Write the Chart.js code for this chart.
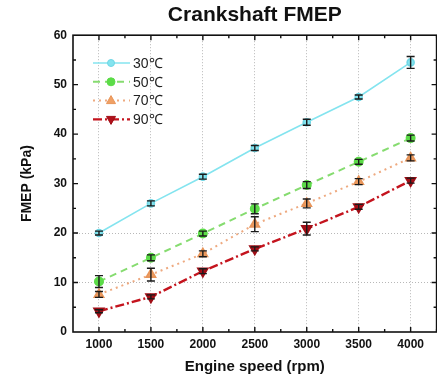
<!DOCTYPE html>
<html>
<head>
<meta charset="utf-8">
<script src="https://cdn.jsdelivr.net/npm/chart.js@4"></script>
<style>
  html, body { margin: 0; padding: 0; background: #fff; overflow: hidden; }
  #wrap { width: 444px; height: 382px; }
</style>
</head>
<body>
<div id="wrap"><canvas id="fmep-chart"></canvas></div>
<script>
// engine speeds (rpm)
const speeds = [1000, 1500, 2000, 2500, 3000, 3500, 4000];
// FMEP values (kPa) per oil temperature
const fmep30 = [20.0, 26.0, 31.4, 37.2, 42.4, 47.5, 54.5];
const fmep50 = [10.2, 15.0, 19.9, 24.9, 29.7, 34.4, 39.2];
const fmep70 = [7.6, 11.6, 15.8, 21.8, 26.0, 30.4, 35.2];
const fmep90 = [4.2, 7.1, 12.3, 16.8, 20.9, 25.3, 30.6];
// error bar half ranges (kPa)
const err30 = [0.4, 0.5, 0.5, 0.5, 0.6, 0.4, 1.2];
const err50 = [1.2, 0.6, 0.5, 1.0, 0.7, 0.5, 0.6];
const err70 = [0.6, 1.3, 0.6, 1.5, 0.9, 0.6, 0.6];
const err90 = [0.3, 0.4, 0.5, 0.4, 1.3, 0.5, 0.5];
// legend labels
const labels = ["30\u2103", "50\u2103", "70\u2103", "90\u2103"];
// y axis ticks
const yTicks = [0, 10, 20, 30, 40, 50, 60];

const FONT = "'Liberation Sans', Arial, sans-serif";

const toPoints = (vals) => vals.map((v, i) => ({ x: speeds[i], y: v }));

// draws one marker (used by the legend)
const drawMarker = (ctx, ds, x, y) => {
  const r = ds.pointRadius;
  ctx.save();
  ctx.fillStyle = ds.pointBackgroundColor;
  ctx.strokeStyle = ds.pointBorderColor;
  ctx.lineWidth = 1;
  ctx.setLineDash([]);
  ctx.beginPath();
  if (ds.pointStyle === "triangle") {
    const s = ds.pointRotation === 180 ? -1 : 1;
    ctx.moveTo(x, y - s * r);
    ctx.lineTo(x + r * 0.9, y + s * r * 0.6);
    ctx.lineTo(x - r * 0.9, y + s * r * 0.6);
    ctx.closePath();
  } else {
    ctx.arc(x, y, r, 0, Math.PI * 2);
  }
  ctx.fill();
  ctx.stroke();
  ctx.restore();
};

// frame with inward ticks, error bars and legend inside the plot
const decorations = {
  id: "decorations",
  afterDatasetsDraw(chart) {
    const { ctx, chartArea: a, scales: { x, y } } = chart;

    // error bars
    ctx.save();
    ctx.strokeStyle = "#1a1a1a";
    ctx.lineWidth = 1.4;
    chart.data.datasets.forEach((ds) => {
      ds.data.forEach((p, i) => {
        const px = x.getPixelForValue(p.x);
        const top = y.getPixelForValue(p.y + ds.errors[i]);
        const bot = y.getPixelForValue(p.y - ds.errors[i]);
        ctx.beginPath();
        ctx.moveTo(px, top); ctx.lineTo(px, bot);
        ctx.moveTo(px - 4, top); ctx.lineTo(px + 4, top);
        ctx.moveTo(px - 4, bot); ctx.lineTo(px + 4, bot);
        ctx.stroke();
      });
    });
    ctx.restore();

    // frame
    ctx.save();
    ctx.strokeStyle = "#111";
    ctx.lineWidth = 1.6;
    ctx.strokeRect(a.left, a.top, a.right - a.left, a.bottom - a.top);
    ctx.lineWidth = 1.4;
    ctx.beginPath();
    for (let v = 1000; v <= 4250; v += 250) {
      const px = x.getPixelForValue(v);
      const len = v % 500 === 0 ? 5 : 3;
      ctx.moveTo(px, a.bottom); ctx.lineTo(px, a.bottom - len);
      ctx.moveTo(px, a.top); ctx.lineTo(px, a.top + len);
    }
    for (let v = 5; v < 60; v += 5) {
      const py = y.getPixelForValue(v);
      const len = v % 10 === 0 ? 5 : 3;
      ctx.moveTo(a.left, py); ctx.lineTo(a.left + len, py);
      ctx.moveTo(a.right, py); ctx.lineTo(a.right - len, py);
    }
    ctx.stroke();
    ctx.restore();

    // legend
    ctx.save();
    ctx.font = "14px " + FONT;
    ctx.textBaseline = "middle";
    chart.data.datasets.forEach((ds, i) => {
      const ly = 63 + i * 18.8;
      ctx.strokeStyle = ds.borderColor;
      ctx.lineWidth = ds.borderWidth;
      ctx.setLineDash(ds.borderDash || []);
      ctx.beginPath();
      ctx.moveTo(93, ly); ctx.lineTo(130, ly);
      ctx.stroke();
      drawMarker(ctx, ds, 111, ly);
      ctx.fillStyle = "#222";
      ctx.fillText(ds.label, 133, ly + 1);
    });
    ctx.restore();
  },
};

const data = {
  datasets: [
    {
      label: labels[0],
      data: toPoints(fmep30),
      errors: err30,
      borderColor: "#84e4ef",
      borderWidth: 1.6,
      pointStyle: "circle",
      pointRadius: 3.5,
      pointBackgroundColor: "#84e4ef",
      pointBorderColor: "#6fd6e4",
    },
    {
      label: labels[1],
      data: toPoints(fmep50),
      errors: err50,
      borderColor: "#86dc70",
      borderWidth: 2,
      borderDash: [7, 5],
      pointStyle: "circle",
      pointRadius: 4,
      pointBackgroundColor: "#5cdc48",
      pointBorderColor: "#5cdc48",
    },
    {
      label: labels[2],
      data: toPoints(fmep70),
      errors: err70,
      borderColor: "#eeaa80",
      borderWidth: 2,
      borderDash: [2, 4],
      pointStyle: "triangle",
      pointRadius: 5,
      pointBackgroundColor: "#f0a064",
      pointBorderColor: "#e8955a",
    },
    {
      label: labels[3],
      data: toPoints(fmep90),
      errors: err90,
      borderColor: "#c4141e",
      borderWidth: 2.4,
      borderDash: [9, 3, 2, 3],
      pointStyle: "triangle",
      pointRotation: 180,
      pointRadius: 5,
      pointBackgroundColor: "#b0101a",
      pointBorderColor: "#a00e16",
    },
  ],
};

const config = {
  type: "line",
  data,
  options: {
    responsive: true,
    maintainAspectRatio: false,
    animation: false,
    layout: { padding: { left: 0, right: 3, top: 0, bottom: 0 } },
    plugins: {
      legend: { display: false },
      tooltip: { enabled: false },
      title: {
        display: true,
        fullSize: false,
        text: "Crankshaft FMEP",
        color: "#111",
        font: { family: FONT, size: 21, weight: "bold" },
        padding: { top: 3, bottom: 7 },
      },
    },
    scales: {
      x: {
        type: "linear",
        min: 750,
        max: 4250,
        afterBuildTicks: (scale) => { scale.ticks = speeds.map((v) => ({ value: v })); },
        afterFit: (scale) => { scale.height = 50; },
        grid: { color: "#b8b8b8", lineWidth: 1, drawTicks: false },
        border: { display: false, dash: [1, 2] },
        ticks: {
          color: "#111",
          padding: 5,
          maxRotation: 0,
          callback: (v) => String(v),
          font: { family: FONT, size: 12, weight: "bold" },
        },
        title: {
          display: true,
          text: "Engine speed (rpm)",
          color: "#111",
          font: { family: FONT, size: 15, weight: "bold" },
          padding: { top: 0, bottom: 6 },
        },
      },
      y: {
        min: 0,
        max: 60,
        afterBuildTicks: (scale) => { scale.ticks = yTicks.map((v) => ({ value: v })); },
        afterFit: (scale) => { scale.width = 73; },
        grid: {
          color: (c) => (c.index === 1 || c.index === 2 ? "#b8b8b8" : "rgba(0,0,0,0)"),
          lineWidth: 1,
          drawTicks: false,
        },
        border: { display: false, dash: [1, 2] },
        ticks: {
          color: "#111",
          padding: 6,
          callback: (v) => String(v),
          font: { family: FONT, size: 12, weight: "bold" },
        },
        title: {
          display: true,
          text: "FMEP (kPa)",
          color: "#111",
          font: { family: FONT, size: 14, weight: "bold" },
          padding: { top: 19, bottom: 0 },
        },
      },
    },
  },
  plugins: [decorations],
};

// create and render the chart
const fmepChart = new Chart(document.getElementById("fmep-chart"), config);
</script>
</body>
</html>
